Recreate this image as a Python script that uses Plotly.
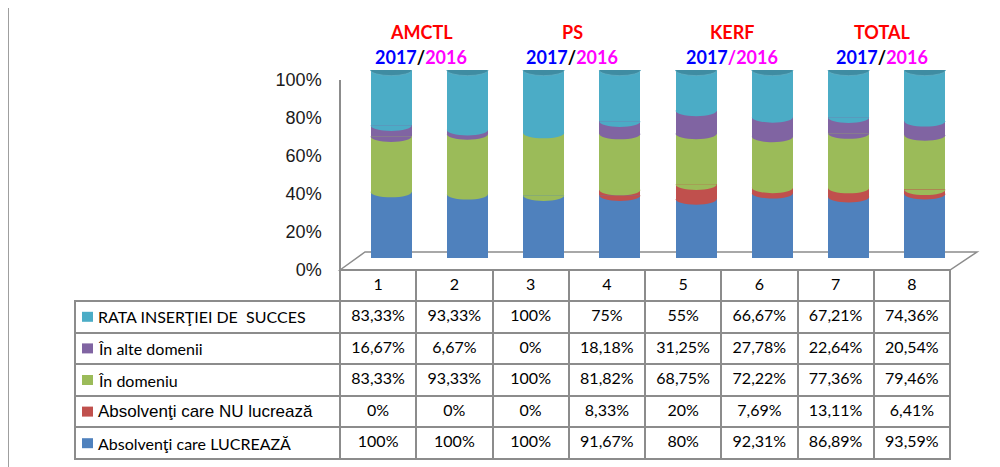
import plotly.graph_objects as go

# ---------------- data ----------------
categories = ["1", "2", "3", "4", "5", "6", "7", "8"]
series_names = [
    "Absolvenţi care LUCREAZĂ",
    "Absolvenţi care NU lucrează",
    "În domeniu",
    "În alte domenii",
    "RATA INSERŢIEI DE  SUCCES",
]
lucreaza = [100, 100, 100, 91.67, 80, 92.31, 86.89, 93.59]
nu_lucreaza = [0, 0, 0, 8.33, 20, 7.69, 13.11, 6.41]
in_domeniu = [83.33, 93.33, 100, 81.82, 68.75, 72.22, 77.36, 79.46]
in_alte = [16.67, 6.67, 0, 18.18, 31.25, 27.78, 22.64, 20.54]
rata = [83.33, 93.33, 100, 75, 55, 66.67, 67.21, 74.36]
series_values = [lucreaza, nu_lucreaza, in_domeniu, in_alte, rata]
series_colors = ["#4f81bd", "#c0504d", "#9bbb59", "#8064a2", "#4bacc6"]
label_fonts = ["Lato", "Liberation Sans", "Lato", "Lato", "Lato"]
label_sizes = [16, 17, 16, 16, 16]

group_titles = ["AMCTL", "PS", "KERF", "TOTAL"]
group_slash_colors = ["#000000", "#000000", "#ff00ff", "#000000"]
y_ticks = [0, 20, 40, 60, 80, 100]

W, H = 1000, 467
OFF = 8  # page body margin offset compensation
def px(x):
    return (x - OFF) / W
def py(y):
    return 1 - (y - OFF) / H

GRID = "#8c8c8c"
BAR_W = 0.54

# table geometry (pixels)
TBL_X0, TBL_LBL, TBL_X1 = 75, 340, 950
HDR_Y0, HDR_H, ROW_H = 270, 31, 31.6

def fmt(v):
    s = f"{v:.2f}".rstrip("0").rstrip(".")
    return s.replace(".", ",") + "%"

xpos = list(range(len(categories)))

fig = go.Figure()

# stacked (100%) cylinder bodies
for name, vals, col in zip(series_names, series_values, series_colors):
    fig.add_trace(go.Bar(
        x=xpos, y=vals, name=name, marker=dict(color=col, line=dict(width=0)),
        width=BAR_W, showlegend=False, hovertext=categories, hoverinfo="text+y+name",
        xaxis="x", yaxis="y",
    ))

# dummy trace so the visible percentage axis is drawn
fig.add_trace(go.Scatter(x=[None], y=[None], xaxis="x", yaxis="y2",
                         showlegend=False, hoverinfo="skip"))

shapes = []
K = 0.5523
cap_h = 3.0
rx = BAR_W / 2

def lower_half(cx, cy, color, layer="above"):
    p = (f"M {cx - rx},{cy} "
         f"C {cx - rx},{cy - K * cap_h} {cx - K * rx},{cy - cap_h} {cx},{cy - cap_h} "
         f"C {cx + K * rx},{cy - cap_h} {cx + rx},{cy - K * cap_h} {cx + rx},{cy} Z")
    return dict(type="path", xref="x", yref="y", path=p, fillcolor=color,
                line=dict(width=0), layer=layer)

for i in xpos:
    col_vals = [s[i] for s in series_values]
    total = sum(col_vals)
    shapes.append(lower_half(i, 0, "#4a79b4"))
    cum = 0.0
    for k, v in enumerate(col_vals):
        if v > 0 and cum > 0:
            shapes.append(lower_half(i, cum / total * 100, series_colors[k]))
        cum += v
    shapes.append(dict(type="circle", xref="x", yref="y", layer="above",
                       x0=i - rx, x1=i + rx, y0=100 - cap_h, y1=100 + cap_h,
                       fillcolor="#3f8ca2", line=dict(width=0.8, color="#62adc2")))

# floor (3D base) and left frame line
floor_path = (f"M {px(340)},{py(270)} L {px(365)},{py(252)} L {px(977)},{py(252)} "
              f"L {px(950)},{py(270)} Z")
shapes.append(dict(type="path", xref="paper", yref="paper", path=floor_path,
                   line=dict(color=GRID, width=1.5), layer="below"))
shapes.append(dict(type="line", xref="paper", yref="paper", x0=px(8), x1=px(8),
                   y0=0, y1=1, line=dict(color="#7f7f7f", width=1.5)))

# data table (header row = category numbers; label column text as annotations)
n_rows = len(series_names)
columns = [[""] * n_rows] + [[fmt(series_values[s][j]) for s in range(n_rows - 1, -1, -1)]
                             for j in range(len(categories))]
tbl_bottom = HDR_Y0 + HDR_H + ROW_H * n_rows + 2
fig.add_trace(go.Table(
    domain=dict(x=[px(TBL_X0), px(TBL_X1)], y=[py(tbl_bottom), py(HDR_Y0)]),
    columnwidth=[TBL_LBL - TBL_X0] + [(TBL_X1 - TBL_LBL) / len(categories)] * len(categories),
    header=dict(values=[""] + categories, height=HDR_H,
                line=dict(color=["rgba(0,0,0,0)"] + [GRID] * 8, width=2),
                fill=dict(color=["rgba(0,0,0,0)"] + ["white"] * 8),
                font=dict(family="Lato", size=16, color="black"), align="center"),
    cells=dict(values=columns, height=ROW_H,
               line=dict(color=GRID, width=2), fill=dict(color="white"),
               font=dict(family="Lato", size=16, color="black"),
               align=["left"] + ["center"] * 8),
))

annotations = []
# label column: legend key squares + series names (top row = last series)
for r in range(n_rows):
    s = n_rows - 1 - r
    yc = HDR_Y0 + HDR_H + ROW_H * (r + 0.5)
    shapes.append(dict(type="rect", xref="paper", yref="paper",
                       x0=px(82), x1=px(93), y0=py(yc + 5), y1=py(yc - 5),
                       fillcolor=series_colors[s], line=dict(width=0)))
    annotations.append(dict(xref="paper", yref="paper", x=px(96), y=py(yc),
                            xanchor="left", yanchor="middle", showarrow=False,
                            text=series_names[s].replace("  ", " \u00a0"),
                            font=dict(family=label_fonts[s], size=label_sizes[s],
                                      color="black")))

# group titles
title_x = [421, 572, 732, 882]
for t, sc, xx in zip(group_titles, group_slash_colors, title_x):
    annotations.append(dict(xref="paper", yref="paper", x=px(xx), y=py(32),
                            xanchor="center", yanchor="middle",
                            text=f"<b>{t}</b>", showarrow=False,
                            font=dict(family="Lato", size=18, color="#ff0000")))
    annotations.append(dict(xref="paper", yref="paper", x=px(xx), y=py(57),
                            xanchor="center", yanchor="middle",
                            text=(f"<b><span style='color:#0000ff'>2017</span>"
                                  f"<span style='color:{sc}'>/</span>"
                                  f"<span style='color:#ff00ff'>2016</span></b>"),
                            showarrow=False,
                            font=dict(family="Lato", size=18, color="#0000ff")))

fig.update_layout(
    width=W, height=H, margin=dict(l=0, r=0, t=0, b=0, autoexpand=False),
    paper_bgcolor="white", plot_bgcolor="rgba(0,0,0,0)",
    barmode="stack", barnorm="percent",
    showlegend=False,
    xaxis=dict(domain=[px(353), px(963)], range=[-0.5, 7.5], visible=False,
               fixedrange=True),
    yaxis=dict(domain=[py(258), py(70)], range=[0, 100], visible=False, fixedrange=True),
    yaxis2=dict(domain=[py(270), py(80)], range=[0, 100], anchor="free",
                position=px(340), showgrid=False, zeroline=False,
                showline=True, linecolor=GRID, linewidth=1.5,
                tickvals=y_ticks, ticktext=[f"{v}%" for v in y_ticks],
                ticks="", ticklabelstandoff=14, automargin=False,
                tickfont=dict(family="Liberation Sans", size=18, color="#1a1a1a")),
    shapes=shapes, annotations=annotations,
)

fig.write_html("out.html")
